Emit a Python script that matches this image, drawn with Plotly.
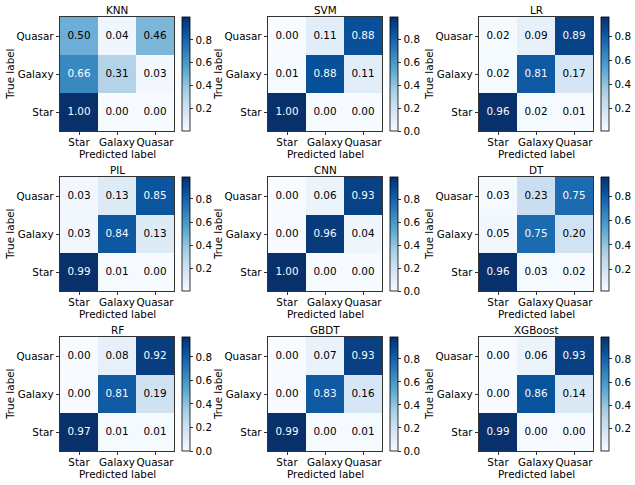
import plotly.graph_objects as go
import plotly.colors as pc

# ---- data (rows bottom->top: Star, Galaxy, Quasar; cols: predicted Star, Galaxy, Quasar)
labels = ["Star", "Galaxy", "Quasar"]
models = ["KNN", "SVM", "LR", "PIL", "CNN", "DT", "RF", "GBDT", "XGBoost"]

knn = [[1.00, 0.00, 0.00], [0.66, 0.31, 0.03], [0.50, 0.04, 0.46]]
svm = [[1.00, 0.00, 0.00], [0.01, 0.88, 0.11], [0.00, 0.11, 0.88]]
lr = [[0.96, 0.02, 0.01], [0.02, 0.81, 0.17], [0.02, 0.09, 0.89]]
pil = [[0.99, 0.01, 0.00], [0.03, 0.84, 0.13], [0.03, 0.13, 0.85]]
cnn = [[1.00, 0.00, 0.00], [0.00, 0.96, 0.04], [0.00, 0.06, 0.93]]
dt = [[0.96, 0.03, 0.02], [0.05, 0.75, 0.20], [0.03, 0.23, 0.75]]
rf = [[0.97, 0.01, 0.01], [0.00, 0.81, 0.19], [0.00, 0.08, 0.92]]
gbdt = [[0.99, 0.00, 0.01], [0.00, 0.83, 0.16], [0.00, 0.07, 0.93]]
xgb = [[0.99, 0.00, 0.00], [0.00, 0.86, 0.14], [0.00, 0.06, 0.93]]
matrices = [knn, svm, lr, pil, cnn, dt, rf, gbdt, xgb]

# lower end of each colour bar (unrounded minima)
cbar_low = [0.004, 0.0, 0.01, 0.003, 0.0, 0.02, 0.0, 0.0, 0.003]
cbar_ticks = [0.0, 0.2, 0.4, 0.6, 0.8]

# ---- layout geometry (page pixels)
W, H = 635, 485
col_left = [60, 268, 479]
row_top = [17, 177, 337]
SZ = 114
FONT = "DejaVu Sans"
FS = 10.4

blues = pc.sequential.Blues


def px_x(p):
    return p / W


def px_y(p):
    return 1 - p / H


fig = go.Figure()
annotations = []
layout_axes = {}

for k, (name, m) in enumerate(zip(models, matrices)):
    r, c = divmod(k, 3)
    left, top = col_left[c], row_top[r]
    x0, x1 = px_x(left), px_x(left + SZ)
    y1, y0 = px_y(top), px_y(top + SZ)
    idx = "" if k == 0 else str(k + 1)
    xa, ya = "x" + idx, "y" + idx

    flat = [v for row in m for v in row]
    zmin, zmax = cbar_low[k], max(flat)
    thresh = (zmin + zmax) / 2

    fig.add_trace(go.Heatmap(
        z=m, x=labels, y=labels, xaxis=xa, yaxis=ya,
        colorscale=blues, zmin=zmin, zmax=zmax, hoverinfo="skip",
        colorbar=dict(
            x=px_x(left + SZ + 8), xanchor="left", xpad=0,
            y=(y0 + y1) / 2, yanchor="middle", ypad=0,
            len=SZ / H, lenmode="fraction",
            thickness=8, thicknessmode="pixels",
            outlinewidth=0.8, outlinecolor="black",
            ticks="outside", ticklen=3.5, tickwidth=0.8, tickcolor="black",
            tickvals=cbar_ticks, ticktext=[f"{t:.1f}" for t in cbar_ticks],
            tickfont=dict(family=FONT, size=FS, color="black"),
        ),
    ))

    xs, ys, txt, cols = [], [], [], []
    for i, rl in enumerate(labels):
        for j, cl in enumerate(labels):
            v = m[i][j]
            xs.append(cl)
            ys.append(rl)
            txt.append(f"{v:.2f}")
            cols.append("#f7fbff" if v > thresh else "black")
    fig.add_trace(go.Scatter(
        x=xs, y=ys, text=txt, mode="text", xaxis=xa, yaxis=ya,
        textfont=dict(family=FONT, size=FS, color=cols),
        hoverinfo="skip", showlegend=False,
    ))

    axcommon = dict(
        showline=True, mirror=True, linecolor="black", linewidth=0.8,
        ticks="outside", ticklen=3.5, tickwidth=0.8, tickcolor="black",
        showgrid=False, zeroline=False, fixedrange=True, tickangle=0,
        automargin=False,
        tickfont=dict(family=FONT, size=FS, color="black"),
        range=[-0.5, 2.5], type="category",
        categoryorder="array", categoryarray=labels,
    )
    layout_axes["xaxis" + idx] = dict(axcommon, domain=[x0, x1], anchor=ya,
                                      ticklabelstandoff=-2)
    layout_axes["yaxis" + idx] = dict(axcommon, domain=[y0, y1], anchor=xa)

    cx = px_x(left + SZ / 2)
    annotations.append(dict(
        text=name, x=cx, y=px_y(top - 7), xref="paper", yref="paper",
        xanchor="center", yanchor="middle", showarrow=False,
        font=dict(family=FONT, size=FS, color="black"),
    ))
    annotations.append(dict(
        text="Predicted label", x=cx, y=px_y(top + SZ + 23),
        xref="paper", yref="paper", xanchor="center", yanchor="middle",
        showarrow=False, font=dict(family=FONT, size=FS, color="black"),
    ))
    annotations.append(dict(
        text="True label", x=px_x(left - 50), y=(y0 + y1) / 2,
        xref="paper", yref="paper", xanchor="center", yanchor="middle",
        textangle=-90, showarrow=False,
        font=dict(family=FONT, size=FS, color="black"),
    ))

fig.update_layout(
    template="none",
    width=W, height=H, margin=dict(l=0, r=0, t=0, b=0, autoexpand=False),
    paper_bgcolor="white", plot_bgcolor="white",
    showlegend=False, annotations=annotations,
    font=dict(family=FONT, size=FS, color="black"),
    **layout_axes,
)

fig.write_html(
    "out.html",
    config={"displayModeBar": False, "staticPlot": True},
    post_script="document.body.style.margin='0';document.body.style.overflow='hidden';",
)
